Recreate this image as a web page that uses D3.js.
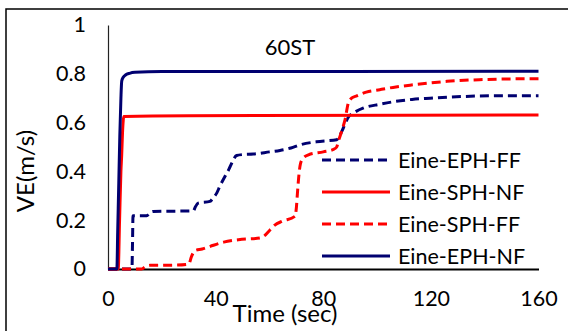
<!DOCTYPE html>
<html>
<head>
<meta charset="utf-8">
<script src="https://cdn.jsdelivr.net/npm/d3@7"></script>
<style>
  html, body { margin: 0; padding: 0; background: #fff; }
  svg { display: block; font-family: Lato, "Open Sans", sans-serif; }
</style>
</head>
<body>
<svg id="chart" width="570" height="331"></svg>
<script>
// Velocity (m/s) against time (s), four cases
const seriesNames = ["Eine-EPH-FF", "Eine-SPH-NF", "Eine-SPH-FF", "Eine-EPH-NF"];

const timeEphFF = [0, 8.9, 9.1, 9.3, 14.4, 15.5, 16.8, 25, 31.7, 32.5, 33.5, 37.9, 39, 40.4, 41.6, 43.5, 45, 46, 47.8, 50, 54, 60, 63.9, 68, 71.4, 78.8, 85, 86.9, 88.3, 89.5, 91.2, 95, 101, 107, 113, 119.7, 132, 145, 160];
const veEphFF   = [0, 0, 0.1, 0.218, 0.218, 0.23, 0.236, 0.237, 0.238, 0.255, 0.27, 0.277, 0.29, 0.311, 0.34, 0.38, 0.41, 0.434, 0.465, 0.469, 0.471, 0.48, 0.486, 0.496, 0.509, 0.523, 0.53, 0.564, 0.6, 0.625, 0.639, 0.66, 0.675, 0.687, 0.695, 0.7, 0.707, 0.71, 0.71];

const timeSphNF = [0, 3.8, 4.3, 4.8, 5.1, 5.4, 5.9, 30, 160];
const veSphNF   = [0, 0, 0.2, 0.4, 0.47, 0.56, 0.625, 0.628, 0.631];

const timeSphFF = [0, 12.5, 14, 15.6, 25, 30, 31, 32.3, 35, 38, 43, 48.5, 56.5, 58, 60.2, 62, 64.6, 69.5, 70, 70.4, 71, 71.5, 72.6, 74.5, 80, 83.8, 85, 85.6, 87, 88.1, 89.3, 90.5, 92.5, 96, 101, 107, 113.5, 120, 126, 138, 150, 160];
const veSphFF   = [0, 0, 0.01, 0.015, 0.016, 0.02, 0.05, 0.075, 0.082, 0.093, 0.11, 0.12, 0.127, 0.135, 0.16, 0.18, 0.195, 0.216, 0.25, 0.31, 0.39, 0.43, 0.455, 0.468, 0.48, 0.49, 0.5, 0.523, 0.57, 0.612, 0.68, 0.7, 0.71, 0.725, 0.735, 0.746, 0.755, 0.763, 0.769, 0.776, 0.779, 0.78];

const timeEphNF = [0, 3.3, 3.6, 4.0, 4.4, 4.8, 5.1, 5.6, 6.5, 8, 10, 20, 160];
const veEphNF   = [0, 0, 0.15, 0.35, 0.55, 0.7, 0.77, 0.785, 0.795, 0.802, 0.806, 0.809, 0.81];

const xTicks = [0, 40, 80, 120, 160];
const yTicks = [0, 0.2, 0.4, 0.6, 0.8, 1];

const chartTitle = "60ST";
const xTitle = "Time (sec)";
const yTitle = "VE(m/s)";

const NAVY = "#000070";
const RED = "#ff0000";

const series = [
  { name: seriesNames[0], t: timeEphFF, v: veEphFF, color: NAVY, dash: "9,5" },
  { name: seriesNames[1], t: timeSphNF, v: veSphNF, color: RED,  dash: null },
  { name: seriesNames[2], t: timeSphFF, v: veSphFF, color: RED,  dash: "9,5" },
  { name: seriesNames[3], t: timeEphNF, v: veEphNF, color: NAVY, dash: null }
];

const svg = d3.select("#chart");

// outer frame (top and left edges)
svg.append("path")
  .attr("d", "M6,331 L6,9 L568,9")
  .attr("fill", "none")
  .attr("stroke", "#000")
  .attr("stroke-width", 1.5);

const x = d3.scaleLinear().domain([0, 160]).range([108, 538.5]);
const y = d3.scaleLinear().domain([0, 1]).range([269, 25]);

// y axis: thin line with labels, no tick marks
const yAxis = svg.append("g")
  .attr("transform", `translate(${x(0)},0)`)
  .call(d3.axisLeft(y).tickValues(yTicks).tickSize(0).tickPadding(22)
    .tickFormat(d => d3.format("")(+d.toFixed(1))));
yAxis.select(".domain").attr("stroke", "#222").attr("stroke-width", 1.2);
yAxis.selectAll("text")
  .attr("font-size", 21.5)
  .attr("fill", "#000")
  .attr("font-family", "Lato, sans-serif");

// x axis: heavier baseline with labels below
const xAxis = svg.append("g")
  .attr("transform", `translate(0,${y(0)})`)
  .call(d3.axisBottom(x).tickValues(xTicks).tickSize(0).tickPadding(22));
xAxis.select(".domain").attr("stroke", "#000").attr("stroke-width", 2);
xAxis.selectAll("text")
  .attr("font-size", 21.5)
  .attr("fill", "#000")
  .attr("font-family", "Lato, sans-serif");

// series lines
const line = d3.line()
  .x(d => x(d[0]))
  .y(d => y(d[1]))
  .curve(d3.curveMonotoneX);

svg.append("g").selectAll("path")
  .data(series)
  .join("path")
  .attr("d", s => line(s.t.map((t, i) => [t, s.v[i]])))
  .attr("fill", "none")
  .attr("stroke", s => s.color)
  .attr("stroke-width", 3)
  .attr("stroke-dasharray", s => s.dash)
  .attr("stroke-linejoin", "round");

// chart title
svg.append("text")
  .attr("x", 290).attr("y", 55)
  .attr("text-anchor", "middle")
  .attr("font-size", 22)
  .attr("fill", "#000")
  .text(chartTitle);

// axis titles
svg.append("text")
  .attr("x", 285).attr("y", 322)
  .attr("text-anchor", "middle")
  .attr("font-size", 24)
  .attr("fill", "#000")
  .text(xTitle);

svg.append("text")
  .attr("transform", "translate(34,171) rotate(-90)")
  .attr("text-anchor", "middle")
  .attr("font-size", 24)
  .attr("fill", "#000")
  .text(yTitle);

// legend
const legend = svg.append("g");
const rowY = d3.scalePoint().domain(seriesNames).range([160, 256]);
const rows = legend.selectAll("g")
  .data(series)
  .join("g")
  .attr("transform", s => `translate(0,${rowY(s.name)})`);
rows.append("line")
  .attr("x1", 322).attr("x2", 390)
  .attr("stroke", s => s.color)
  .attr("stroke-width", 3)
  .attr("stroke-dasharray", s => s.dash);
rows.append("text")
  .attr("x", 398).attr("y", 7.5)
  .attr("font-size", 21.5)
  .attr("fill", "#000")
  .text(s => s.name);
</script>
</body>
</html>
